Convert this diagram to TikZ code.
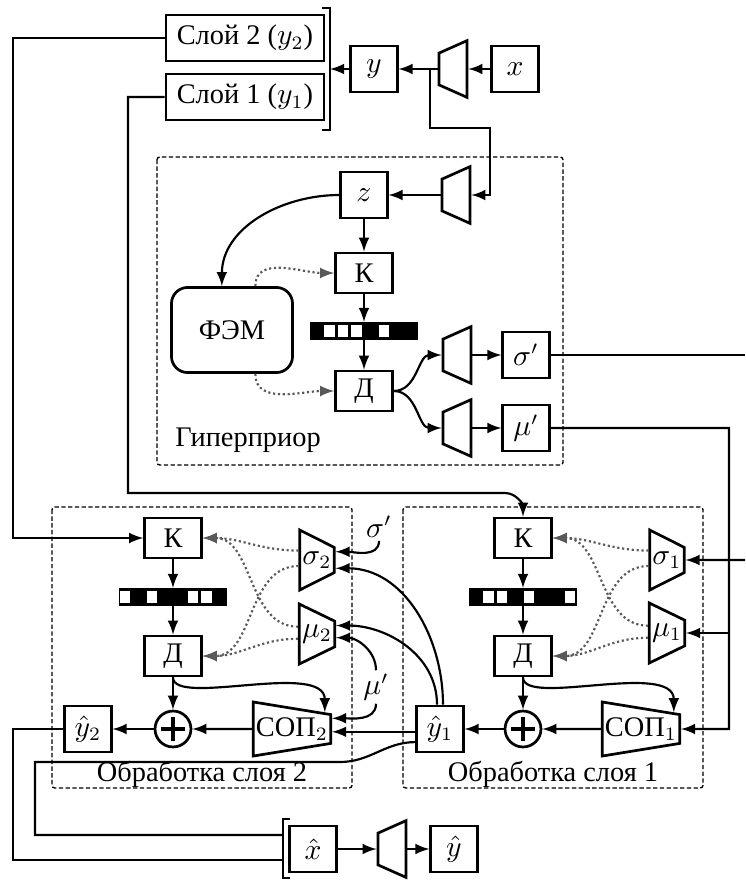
\documentclass[tikz,border=0pt]{standalone}
\usepackage{fontspec}
\setmainfont{Liberation Serif}
\usetikzlibrary{shapes.geometric,calc}

\begin{document}
\begin{tikzpicture}[
    x=0.37pt, y=-0.37pt,
    font=\fontsize{10.5pt}{12pt}\selectfont,
    >=latex,
    box/.style={draw, rectangle, line width=1pt, minimum width=17.2pt, minimum height=17pt, inner sep=1pt},
    slot/.style={box, minimum width=58.5pt},
    codec/.style={box, minimum width=21pt, minimum height=14.8pt},
    enc/.style={draw, trapezium, line width=1pt, trapezium stretches=true, shape border rotate=90, trapezium angle=68.5, minimum width=21pt, minimum height=10.4pt, inner sep=1pt},
    dec/.style={enc, shape border rotate=270, trapezium angle=65.7, minimum width=22.2pt, minimum height=11.5pt},
    ctx/.style={enc, shape border rotate=270, trapezium angle=80.8, minimum width=20pt, minimum height=28.5pt},
    fem/.style={draw, rectangle, line width=1pt, rounded corners=6pt, minimum width=44.8pt, minimum height=31.5pt},
    bits/.style={rectangle, fill=black, minimum width=40.3pt, minimum height=6.3pt, inner sep=0pt},
    adder/.style={draw, circle, line width=1pt, minimum size=13.3pt, inner sep=0pt,
        path picture={\draw[line width=1.4pt] (path picture bounding box.center) +(-4.6pt,0) -- +(4.6pt,0)
            (path picture bounding box.center) +(0,-4.6pt) -- +(0,4.6pt);}},
    block/.style={draw, line width=0.5pt, dash pattern=on 1.6pt off 0.9pt, rounded corners=1pt},
    conn/.style={line width=0.8pt},
    ctrl/.style={densely dotted, line width=0.8pt, black!65, ->},
    lbl/.style={inner sep=1pt}
]
\useasboundingbox (0,0) rectangle (745,880);

% input, analysis and layer split
\node[box] (xin) at (515,69) {$x$};
\node[enc] (ga) at (453,69) {};
\node[box] (yl) at (374,69) {$y$};
\node[slot] (slo2) at (245,38) {Слой 2 ($y_2$)};
\node[slot] (slo1) at (245,97) {Слой 1 ($y_1$)};
\draw[line width=1pt] (322,8) -- (330,8) -- (330,130) -- (322,130);
\coordinate (split) at (330,69);

% hyperprior
\node[enc] (ha) at (456,195) {};
\node[box] (zl) at (364,195) {$z$};
\node[codec] (k0) at (364,273) {К};
\node[bits] (bar0) at (364,331) {};
\foreach \i in {1,2,3,5} \fill[white] ($(bar0.west)+(\i*13.6+1.6,-6)$) rectangle ++(10.4,12);
\node[codec] (d0) at (364,391) {Д};
\node[fem] (fm) at (232,330) {ФЭМ};
\node[enc] (hs) at (457,355) {};
\node[enc] (hm) at (457,428) {};
\node[box] (sp) at (526,355) {$\sigma'$};
\node[box] (mp) at (526,428) {$\mu'$};
\node[lbl] (hlab) at (248,440) {Гиперприор};
\draw[block] (157,157) rectangle (563,465);
\coordinate (sigout) at (745,355);
\coordinate (sigin) at (745,560);
\coordinate (rail) at (729,729);

% layer 2
\node[codec] (k2) at (173,538) {К};
\node[bits] (bar2) at (173,597) {};
\foreach \i in {0,2,5,6} \fill[white] ($(bar2.west)+(\i*13.6+1.6,-6)$) rectangle ++(10.4,12);
\node[codec] (d2) at (173,656) {Д};
\node[adder] (sum2) at (173,729) {};
\node[box] (yh2) at (88,729) {$\hat{y}_2$};
\node[dec] (s2) at (317,560) {$\sigma_2$};
\node[dec] (m2) at (317,634) {$\mu_2$};
\node[ctx] (sop2) at (292,729) {СОП$_2$};
\node[lbl] (l2) at (202,774) {Обработка слоя 2};
\draw[block] (52,507) rectangle (352,788);
\node[lbl] (sigl) at (379,527) {$\sigma'$};
\node[lbl] (mul) at (376,687) {$\mu'$};

% layer 1
\node[codec] (k1) at (523,538) {К};
\node[bits] (bar1) at (523,597) {};
\foreach \i in {1,2,4,7} \fill[white] ($(bar1.west)+(\i*13.6+1.6,-6)$) rectangle ++(10.4,12);
\node[codec] (d1) at (523,656) {Д};
\node[adder] (sum1) at (523,729) {};
\node[box] (yh1) at (440,729) {$\hat{y}_1$};
\node[dec] (s1) at (667,560) {$\sigma_1$};
\node[dec] (m1) at (667,633) {$\mu_1$};
\node[ctx] (sop1) at (641,729) {СОП$_1$};
\node[lbl] (l1) at (553,774) {Обработка слоя 1};
\draw[block] (403,507) rectangle (703,788);

% reconstruction
\node[box] (xh) at (313,849) {$\hat{x}$};
\node[enc] (gs) at (392,849) {};
\node[box] (yh) at (454,849) {$\hat{y}$};
\draw[line width=1pt] (290,819) -- (283,819) -- (283,878) -- (290,878);
\coordinate (join1) at (283,835);
\coordinate (join2) at (283,860);

% connectors: top
\draw[conn,->] (xin) -- (ga);
\draw[conn,->] (ga) -- (yl);
\draw[conn,->] (yl) -- (split);
\draw[conn,->] (ga.west) ++(-8,0) |- (490,128) |- (ha.east);
\draw[conn,->] (slo2.west) -| (13,538) -- (k2.west);
\draw[conn,->] (slo1.west) -| (128,493) -- (505,493) to[out=0,in=90] (k1.north);

% connectors: hyperprior
\draw[conn,->] (ha) -- (zl);
\draw[conn,->] (zl) -- (k0);
\draw[conn,->] (k0) -- (bar0);
\draw[conn,->] (bar0) -- (d0);
\draw[conn,->] (zl.west) to[out=180,in=90] (fm.103);
\draw[ctrl] (fm.62) to[out=90,in=180] (k0.west);
\draw[ctrl] (fm.-62) to[out=-90,in=180] (d0.west);
\draw[conn,->] (d0.east) to[out=0,in=180] (hs.west);
\draw[conn,->] (d0.east) to[out=0,in=180] (hm.west);
\draw[conn,->] (hs) -- (sp);
\draw[conn,->] (hm) -- (mp);
\draw[conn] (sp.east) -- (sigout);
\draw[conn,->] (mp.east) -| (rail) -- (sop1.east);
\draw[conn,->] (m1.east -| rail) -- (m1.east);
\draw[conn,->] (sigin) -- (s1.east);

% connectors: layer 1
\draw[conn,->] (k1) -- (bar1);
\draw[conn,->] (bar1) -- (d1);
\draw[conn,->] (d1) -- (sum1);
\draw[conn,->] (sop1) -- (sum1);
\draw[conn,->] (sum1) -- (yh1);
\draw[conn,->] (d1.south) .. controls +(0,30) and +(0,-52) .. (sop1.27);
\draw[ctrl] (s1.153) to[out=180,in=0] (k1.east);
\draw[ctrl] (s1.198) to[out=180,in=0] (d1.east);
\draw[ctrl] (m1.159) to[out=180,in=0] (k1.east);
\draw[ctrl] (m1.194) to[out=180,in=0] (d1.east);

% connectors: layer 2
\draw[conn,->] (k2) -- (bar2);
\draw[conn,->] (bar2) -- (d2);
\draw[conn,->] (d2) -- (sum2);
\draw[conn,->] (sop2) -- (sum2);
\draw[conn,->] (sum2) -- (yh2);
\draw[conn,->] (d2.south) .. controls +(0,30) and +(0,-52) .. (sop2.27);
\draw[ctrl] (s2.153) to[out=180,in=0] (k2.east);
\draw[ctrl] (s2.198) to[out=180,in=0] (d2.east);
\draw[ctrl] (m2.159) to[out=180,in=0] (k2.east);
\draw[ctrl] (m2.194) to[out=180,in=0] (d2.east);
\draw[conn,->] (sigl.south) to[out=-90,in=0] (s2.24);
\draw[conn,->] (mul.north) to[out=90,in=0] (m2.-11);
\draw[conn,->] (mul.south) to[out=-90,in=0] (sop2.15);
\draw[conn,->] (yh1.83) to[out=90,in=0] (s2.-24);
\draw[conn,->] (yh1.97) to[out=90,in=0] (m2.24);
\draw[conn,->] (sop2.-4 -| yh1.west) -- (sop2.-4);

% connectors: to reconstruction
\draw[conn] (yh1.208) to[out=180,in=0] (340,762) -| (35,835) -- (join1);
\draw[conn] (yh2.west) -| (13,860) -- (join2);
\draw[conn,->] (xh) -- (gs);
\draw[conn,->] (gs) -- (yh);
\end{tikzpicture}
\end{document}
